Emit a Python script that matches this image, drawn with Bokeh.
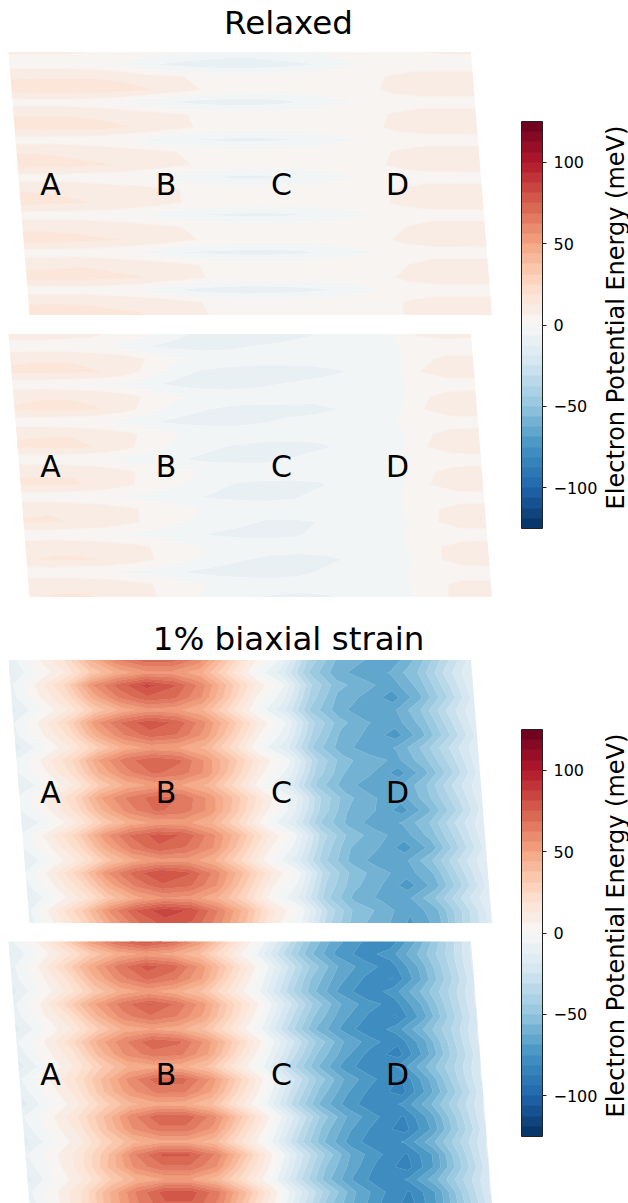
from bokeh.embed import file_html
from bokeh.resources import INLINE
from bokeh.plotting import figure
from bokeh.models import ColorBar, LinearColorMapper, FixedTicker, Range1d
from bokeh.core.properties import value
import numpy as np

# Electron potential energy (meV): rows top to bottom, columns left to right
relaxed_a = [
[7,7,7,6,5,3,1,0,-2,-2,-1,0,2,3,5,6,7,7],
[3,3,3,2,0,-5,-8,-10,-11,-11,-9,-7,-2,0,2,2,2,2],
[12,12,12,12,11,9,7,5,4,4,4,4,4,4,7,10,10,10],
[15,16,16,16,15,13,10,6,4,3,3,3,4,4,8,11,11,11],
[3,3,3,2,0,-4,-7,-9,-10,-10,-8,-5,-1,0,2,2,2,2],
[12,12,12,11,10,9,7,5,4,4,4,4,4,4,7,10,10,10],
[15,15,15,15,13,11,8,5,4,3,3,3,3,4,8,11,11,12],
[3,3,3,2,0,-3,-6,-7,-8,-8,-7,-5,-1,0,2,2,2,2],
[12,12,11,10,9,8,6,5,4,4,4,4,4,4,7,10,10,10],
[16,15,14,13,12,10,7,5,4,3,3,3,3,4,8,11,11,12],
[3,3,3,2,1,-2,-4,-6,-8,-8,-7,-4,-1,1,2,2,2,2],
[12,12,11,10,9,8,6,5,4,4,4,4,4,4,7,10,10,10],
[15,14,13,12,11,9,6,5,4,3,3,3,3,4,8,11,11,12],
[3,3,3,2,1,-2,-5,-7,-8,-8,-7,-5,-2,0,2,2,2,2],
[11,11,11,10,9,8,6,5,4,4,4,4,4,4,6,10,10,10],
[15,15,14,13,12,10,7,5,4,3,3,3,3,4,8,11,11,12],
[3,3,3,2,0,-3,-7,-8,-9,-9,-8,-6,-2,0,2,2,2,2],
[11,11,12,11,10,9,7,5,4,4,4,4,4,4,6,10,10,10],
[15,15,15,14,13,11,8,5,4,3,3,3,3,4,8,11,11,11],
[3,3,3,2,0,-4,-8,-10,-11,-10,-9,-7,-3,0,2,2,2,2],
[12,12,12,11,11,10,7,5,4,4,4,4,4,4,7,10,10,10],
[15,16,15,14,13,11,8,5,3,3,3,3,3,4,7,10,10,10],
]
relaxed_b = [
[10,10,9,8,5,2,-4,-8,-10,-11,-9,-7,-4,-3,-1,7,9,8],
[2,2,2,1,-1,-6,-8,-9,-8,-6,-5,-4,-3,-2,-1,2,2,2],
[11,12,12,11,10,6,1,-1,-2,-2,-2,-2,-3,-4,-3,4,8,8],
[14,14,14,13,11,4,-3,-7,-9,-11,-11,-10,-7,-4,-3,6,11,11],
[2,2,1,0,-2,-5,-8,-10,-10,-8,-6,-4,-3,-2,-1,1,2,2],
[11,12,12,11,9,5,1,-1,-2,-2,-2,-3,-4,-4,-3,5,9,10],
[13,14,14,13,9,3,-3,-6,-8,-9,-9,-9,-6,-4,-3,6,11,12],
[2,2,1,0,-2,-6,-8,-9,-9,-7,-5,-3,-2,-2,0,1,2,2],
[12,12,12,10,8,4,0,-1,-2,-2,-3,-3,-3,-3,-2,5,9,10],
[13,14,14,12,8,2,-2,-5,-7,-9,-9,-8,-5,-3,-2,6,11,12],
[2,2,1,0,-2,-4,-6,-8,-8,-8,-6,-3,-2,-2,0,1,2,2],
[12,12,12,10,7,4,1,-1,-2,-2,-3,-3,-2,-2,-1,5,9,10],
[13,13,13,11,7,3,0,-4,-7,-8,-8,-7,-4,-3,-1,6,11,12],
[2,2,1,0,-1,-3,-5,-7,-8,-8,-7,-4,-2,-1,0,1,2,2],
[11,12,11,10,7,4,1,-1,-2,-3,-3,-2,-2,-2,0,5,9,10],
[13,13,12,11,7,4,0,-3,-5,-7,-7,-6,-4,-3,-1,5,10,11],
[2,2,1,0,-1,-3,-5,-7,-8,-8,-7,-4,-3,-2,0,1,2,2],
[10,11,11,10,8,5,1,-1,-2,-3,-3,-3,-3,-2,0,5,9,10],
[12,13,13,12,9,5,1,-3,-6,-8,-9,-8,-5,-3,-1,5,10,11],
[2,2,1,0,-2,-4,-7,-9,-10,-10,-8,-5,-3,-2,0,1,2,2],
[10,11,11,10,8,5,1,-1,-2,-3,-3,-3,-3,-2,0,5,8,8],
[12,13,13,12,9,5,1,-3,-6,-7,-8,-7,-4,-3,-1,5,8,9],
]
strain_a = [
[-10,4,18,44,62,72,72,60,34,8,-8,-38,-56,-62,-68,-55,-35,-16],
[-14,0,12,32,46,54,54,46,24,0,-16,-44,-60,-66,-62,-50,-30,-12],
[-8,8,26,56,72,84,76,60,36,12,-5,-36,-54,-60,-66,-54,-34,-14],
[-9,5,20,46,64,74,70,56,32,6,-11,-40,-58,-64,-72,-58,-38,-16],
[-15,-1,12,32,46,54,52,44,22,-1,-18,-46,-60,-68,-64,-50,-30,-13],
[-7,8,26,54,70,80,74,58,36,12,-6,-36,-54,-62,-66,-54,-34,-14],
[-8,5,20,46,62,72,68,54,30,6,-11,-40,-58,-64,-72,-58,-38,-17],
[-16,-2,12,30,46,52,50,42,22,-2,-18,-46,-60,-66,-62,-48,-30,-13],
[-6,8,24,50,66,74,70,54,34,12,-5,-36,-54,-60,-64,-52,-34,-14],
[-7,5,20,44,60,70,66,54,30,7,-10,-40,-56,-62,-72,-58,-38,-16],
[-14,-1,12,32,46,52,50,42,22,-1,-18,-46,-60,-66,-64,-50,-30,-13],
[-5,8,24,50,64,72,68,54,34,12,-6,-36,-54,-62,-66,-52,-34,-14],
[-6,5,20,44,60,70,66,54,32,8,-10,-38,-56,-62,-72,-58,-38,-16],
[-14,-2,12,32,46,52,52,44,24,0,-17,-44,-58,-66,-62,-50,-30,-13],
[-5,10,28,54,70,78,74,58,38,14,-4,-34,-52,-60,-66,-54,-34,-14],
[-6,6,22,46,64,74,68,56,32,8,-9,-38,-56,-62,-72,-60,-38,-16],
[-13,0,14,34,48,54,54,44,24,1,-16,-42,-58,-66,-64,-50,-30,-12],
[-6,10,30,56,72,82,76,60,38,14,-3,-34,-52,-60,-66,-56,-34,-14],
[-8,6,22,46,64,74,70,56,32,8,-8,-38,-54,-62,-72,-60,-38,-16],
[-14,0,14,34,48,56,54,44,26,2,-14,-42,-58,-64,-64,-50,-30,-12],
[-8,12,32,58,76,86,80,62,40,14,-2,-32,-52,-58,-68,-58,-36,-15],
[-10,8,26,50,68,78,74,58,36,10,-7,-36,-54,-60,-70,-60,-36,-16],
]
strain_b = [
[-9,6,26,52,70,80,72,54,28,4,-22,-48,-66,-75,-80,-62,-40,-18],
[-14,0,14,32,46,52,48,38,16,-4,-30,-54,-70,-78,-72,-56,-38,-18],
[-9,6,26,48,66,78,72,54,30,6,-20,-44,-62,-72,-78,-62,-40,-18],
[-10,3,18,42,60,70,64,50,24,1,-25,-50,-66,-76,-82,-64,-42,-20],
[-15,0,14,32,46,52,46,36,16,-4,-30,-54,-70,-80,-72,-56,-38,-18],
[-8,7,28,50,66,76,68,52,28,6,-20,-44,-62,-72,-78,-62,-40,-18],
[-10,4,18,42,60,68,62,48,24,1,-26,-50,-66,-76,-82,-66,-42,-20],
[-15,-1,12,30,46,50,46,36,16,-5,-32,-56,-70,-80,-72,-56,-38,-18],
[-7,6,22,46,62,74,70,54,30,6,-20,-44,-62,-72,-80,-64,-40,-18],
[-10,3,16,40,58,66,64,50,24,0,-26,-50,-66,-78,-84,-66,-42,-20],
[-16,-2,12,30,44,48,46,36,14,-6,-34,-56,-72,-80,-74,-56,-38,-18],
[-7,5,18,38,58,72,72,56,30,5,-22,-46,-64,-74,-82,-64,-40,-18],
[-10,2,14,36,54,64,64,50,24,0,-28,-52,-68,-78,-84,-66,-44,-20],
[-16,-2,10,28,42,48,46,38,16,-6,-34,-58,-72,-80,-74,-58,-38,-18],
[-7,4,18,38,60,74,74,60,34,8,-20,-46,-64,-74,-82,-66,-42,-18],
[-10,2,14,36,56,66,66,54,26,2,-26,-52,-68,-78,-84,-68,-44,-20],
[-16,-2,10,28,42,48,48,40,18,-4,-32,-56,-72,-80,-74,-58,-38,-18],
[-7,4,16,36,62,76,76,62,36,8,-20,-44,-64,-74,-82,-68,-42,-18],
[-10,2,16,38,58,68,68,56,28,4,-24,-50,-66,-78,-84,-68,-44,-20],
[-15,0,12,30,44,50,50,40,20,-2,-30,-54,-70,-80,-74,-58,-38,-18],
[-8,5,20,44,64,78,78,64,38,10,-18,-42,-62,-74,-82,-68,-42,-18],
[-10,4,20,44,62,74,74,60,32,6,-22,-48,-64,-76,-84,-68,-44,-20],
]
titles = ["Relaxed", "1% biaxial strain"]
letters = ["A", "B", "C", "D"]
cbar_label = "Electron Potential Energy (meV)"
cbar_ticks = [-100, -50, 0, 50, 100]

# RdBu, low to high, resampled to 40 contour bands
anchors = ["#053061","#2166ac","#4393c3","#92c5de","#d1e5f0","#f7f7f7",
           "#fddbc7","#f4a582","#d6604d","#b2182b","#67001f"]
rgb = np.array([[int(c[i:i+2], 16) for i in (1, 3, 5)] for c in anchors], float)
t = (np.arange(40) + 0.5) / 40 * 10
pal = ["#%02x%02x%02x" % tuple(int(round(np.interp(s, np.arange(11), rgb[:, k]))) for k in range(3)) for s in t]
levels = list(np.linspace(-125, 125, 41))

W, H = 628, 1203
p = figure(width=W, height=H, x_range=Range1d(0, W), y_range=Range1d(H, 0),
           output_backend="svg", toolbar_location=None, min_border=0)
p.axis.visible = False
p.grid.visible = False
p.outline_line_color = None

PW, PH, SK, X0 = 462.5, 263, 21, 8
tops = [51.5, 333.5, 659.5, 941]
fields = [relaxed_a, relaxed_b, strain_a, strain_b]
for top, f in zip(tops, fields):
    z = np.array(f, float)
    ny, nx = z.shape
    u, v = np.meshgrid(np.linspace(0, 1, nx), np.linspace(0, 1, ny))
    xx = X0 + u * PW + v * SK
    yy = top + v * PH
    p.contour(xx, yy, z, levels, fill_color=pal, line_color=pal + pal[-1:], line_width=0.6)
    p.text(x=[50, 165.5, 281, 397], y=[top + 132.5] * 4, text=letters, text_font=value("DejaVu Sans"),
           text_font_size="30px", text_align="center", text_baseline="middle", text_color="black")

for txt, y in zip(titles, [22, 638]):
    p.text(x=[288], y=[y], text=[txt], text_font=value("DejaVu Sans"), text_font_size="32.5px",
           text_align="center", text_baseline="middle", text_color="black")

mapper = LinearColorMapper(palette=pal, low=-125, high=125)
for top, cy in zip([121, 729], [317, 925]):
    cb = ColorBar(color_mapper=mapper, ticker=FixedTicker(ticks=cbar_ticks),
                  major_label_overrides={-100: "\u2212100", -50: "\u221250", 0: "0", 50: "50", 100: "100"},
                  width=21, height=407, padding=0, margin=0, location=(521, H - top - 407),
                  background_fill_color=None, bar_line_color="#222222", bar_line_width=1,
                  major_tick_in=0, major_tick_out=4, major_tick_line_color="#222222",
                  minor_tick_line_color=None, major_label_text_font="DejaVu Sans",
                  major_label_text_font_size="16px", major_label_text_color="black", label_standoff=7)
    p.add_layout(cb)
    p.text(x=[615.5], y=[cy], text=[cbar_label], angle=np.pi / 2, text_font=value("DejaVu Sans"),
           text_font_size="24px", text_align="center", text_baseline="middle", text_color="black")

open("out.html", "w").write(file_html(p, INLINE))
